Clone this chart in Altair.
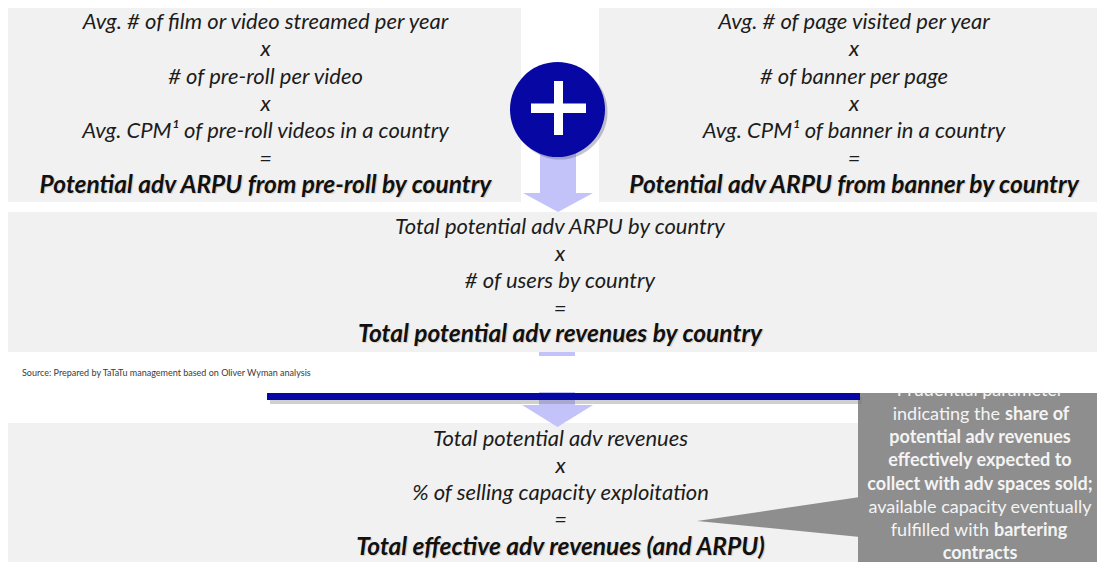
import altair as alt
import pandas as pd

# ---------------- content (text of the diagram) ----------------
left_terms = ["Avg. # of film or video streamed per year", "x", "# of pre-roll per video", "x",
              "Avg. CPM¹ of pre-roll videos in a country", "="]
left_result = "Potential adv ARPU from pre-roll by country"
right_terms = ["Avg. # of page visited per year", "x", "# of banner per page", "x",
               "Avg. CPM¹ of banner in a country", "="]
right_result = "Potential adv ARPU from banner by country"
mid_terms = ["Total potential adv ARPU by country", "x", "# of users by country", "="]
mid_result = "Total potential adv revenues by country"
low_terms = ["Total potential adv revenues", "x", "% of selling capacity exploitation", "="]
low_result = "Total effective adv revenues (and ARPU)"
source_note = "Source: Prepared by TaTaTu management based on Oliver Wyman analysis"
callout_segments = [
    ["Prudential parameter"],
    ["indicating the", "share of"],
    ["potential adv revenues"],
    ["effectively expected to"],
    ["collect with adv spaces sold;"],
    ["available capacity eventually"],
    ["fulfilled with", "bartering"],
    ["contracts"],
]
callout_bold = [
    [False],
    [False, True],
    [True],
    [True],
    [True],
    [False],
    [False, True],
    [True],
]

# ---------------- layout (pixel frame of the picture) ----------------
X0, X1, Y0, Y1 = 8, 1097, 8, 562
xs = alt.Scale(domain=[X0, X1], nice=False, zero=False)
ys = alt.Scale(domain=[Y0, Y1], nice=False, zero=False, reverse=True)
X = lambda f="x": alt.X(f"{f}:Q", scale=xs, axis=None)
Y = lambda f="y": alt.Y(f"{f}:Q", scale=ys, axis=None)

GREY = "#f1f1f1"
LAV = "#c3c3fa"
NAVY = "#0707a3"
CALL = "#8e8e8e"
INK = "#1c1c1c"
FONT = "Lato"

boxes = pd.DataFrame([
    dict(x=8, x2=521, y=5, y2=202),
    dict(x=599, x2=1105, y=5, y2=202),
    dict(x=8, x2=1105, y=212, y2=352),
    dict(x=8, x2=860, y=423, y2=562),
])

def rects(df, color, opacity=1.0):
    return alt.Chart(df).mark_rect(color=color, opacity=opacity).encode(
        x=X("x"), x2="x2:Q", y=Y("y"), y2="y2:Q")

def shape(df, path, size, color):
    return alt.Chart(df).mark_point(shape=path, size=size, filled=True, color=color,
                                    opacity=1, strokeWidth=0).encode(x=X(), y=Y())

layers = []
layers.append(rects(boxes, GREY))

# callout box + pointer (triangle toward the lower box)
layers.append(rects(pd.DataFrame([dict(x=858, x2=1105, y=393, y2=562)]), CALL))
layers.append(shape(pd.DataFrame([dict(x=778.5, y=517)]),
                    "M-1,0.049L1,-0.245L1,0.245Z", 163 * 163, CALL))

# callout text
c_rows = []
c_y = [391, 414.5, 438, 461, 484.5, 508, 531, 554]
cx = 980
for i, (segs, bolds) in enumerate(zip(callout_segments, callout_bold)):
    if len(segs) == 1:
        c_rows.append(dict(x=cx, y=c_y[i], text=segs[0], bold=bolds[0], al="center"))
    else:
        split = 1000 if i == 1 else 989
        c_rows.append(dict(x=split, y=c_y[i], text=segs[0], bold=bolds[0], al="right"))
        c_rows.append(dict(x=split + 5, y=c_y[i], text=segs[1], bold=bolds[1], al="left"))
cdf = pd.DataFrame(c_rows)
for b in (False, True):
    for al in ("center", "right", "left"):
        sub = cdf[(cdf["bold"] == b) & (cdf["al"] == al)]
        if len(sub) == 0:
            continue
        layers.append(alt.Chart(sub).mark_text(
            font=FONT, fontSize=18, fontWeight="bold" if b else "normal",
            color="#f4f4f4", align=al, baseline="middle").encode(
            x=X(), y=Y(), text="text:N"))

# lower arrow shaft (hidden partially by white band)
layers.append(rects(pd.DataFrame([dict(x=539, x2=575, y=352, y2=406)]), LAV))

# white band with source
layers.append(rects(pd.DataFrame([dict(x=8, x2=1105, y=356, y2=392)]), "#ffffff"))
layers.append(alt.Chart(pd.DataFrame([dict(x=22, y=373, text=source_note)])).mark_text(
    font=FONT, fontSize=9, color="#3a3a3a", align="left", baseline="middle").encode(
    x=X(), y=Y(), text="text:N"))

# blue bar + shadow
layers.append(rects(pd.DataFrame([dict(x=270, x2=862, y=397, y2=404)]), "#777777", 0.35))
layers.append(rects(pd.DataFrame([dict(x=267, x2=860, y=393, y2=400)]), NAVY))

# arrows: shafts and heads
layers.append(rects(pd.DataFrame([dict(x=540, x2=576, y=150, y2=194)]), LAV))
layers.append(shape(pd.DataFrame([dict(x=558, y=202.5)]),
                    "M-1,-0.27L1,-0.27L0,0.27Z", 70 * 70, LAV))
layers.append(shape(pd.DataFrame([dict(x=557.5, y=416)]),
                    "M-1,-0.31L1,-0.31L0,0.31Z", 71 * 71, LAV))

# plus circle with shadow
layers.append(alt.Chart(pd.DataFrame([dict(x=560, y=112)])).mark_circle(
    size=95 * 95, color="#555577", opacity=0.35).encode(x=X(), y=Y()))
layers.append(alt.Chart(pd.DataFrame([dict(x=557.5, y=109.5)])).mark_circle(
    size=95 * 95, color=NAVY, opacity=1).encode(x=X(), y=Y()))
layers.append(rects(pd.DataFrame([
    dict(x=531, x2=586, y=103.5, y2=113),
    dict(x=554, x2=563, y=81, y2=135),
]), "#ffffff"))

# box texts
rows = []
def add(center, top, step, terms, result, res_y):
    for i, t in enumerate(terms):
        rows.append(dict(x=center, y=top + i * step, text=t, res=False))
    rows.append(dict(x=center, y=res_y, text=result, res=True))

add(265.5, 22, 27.3, left_terms, left_result, 186)
add(854, 22, 27.3, right_terms, right_result, 186)
add(560, 227, 27.2, mid_terms, mid_result, 335)
add(560.5, 439, 27.0, low_terms, low_result, 548)
tdf = pd.DataFrame(rows)

layers.append(alt.Chart(tdf[~tdf["res"]]).mark_text(
    font=FONT, fontSize=22, fontStyle="italic", color=INK, align="center",
    baseline="middle").encode(x=X(), y=Y(), text="text:N"))
layers.append(alt.Chart(tdf[tdf["res"]]).mark_text(
    font=FONT, fontSize=24.5, fontStyle="italic", fontWeight="bold", color="#c8b89c",
    opacity=0.5, align="center", baseline="middle", dx=1.2, dy=1.2).encode(
    x=X(), y=Y(), text="text:N"))
layers.append(alt.Chart(tdf[tdf["res"]]).mark_text(
    font=FONT, fontSize=24.5, fontStyle="italic", fontWeight="bold", color="#111111",
    align="center", baseline="middle").encode(x=X(), y=Y(), text="text:N"))

chart = alt.layer(*layers).properties(
    width=X1 - X0, height=Y1 - Y0, padding=0,
    autosize=alt.AutoSizeParams(type="none"),
).configure_view(stroke=None)

chart.save("out.html", embed_options={"renderer": "svg", "actions": False})
